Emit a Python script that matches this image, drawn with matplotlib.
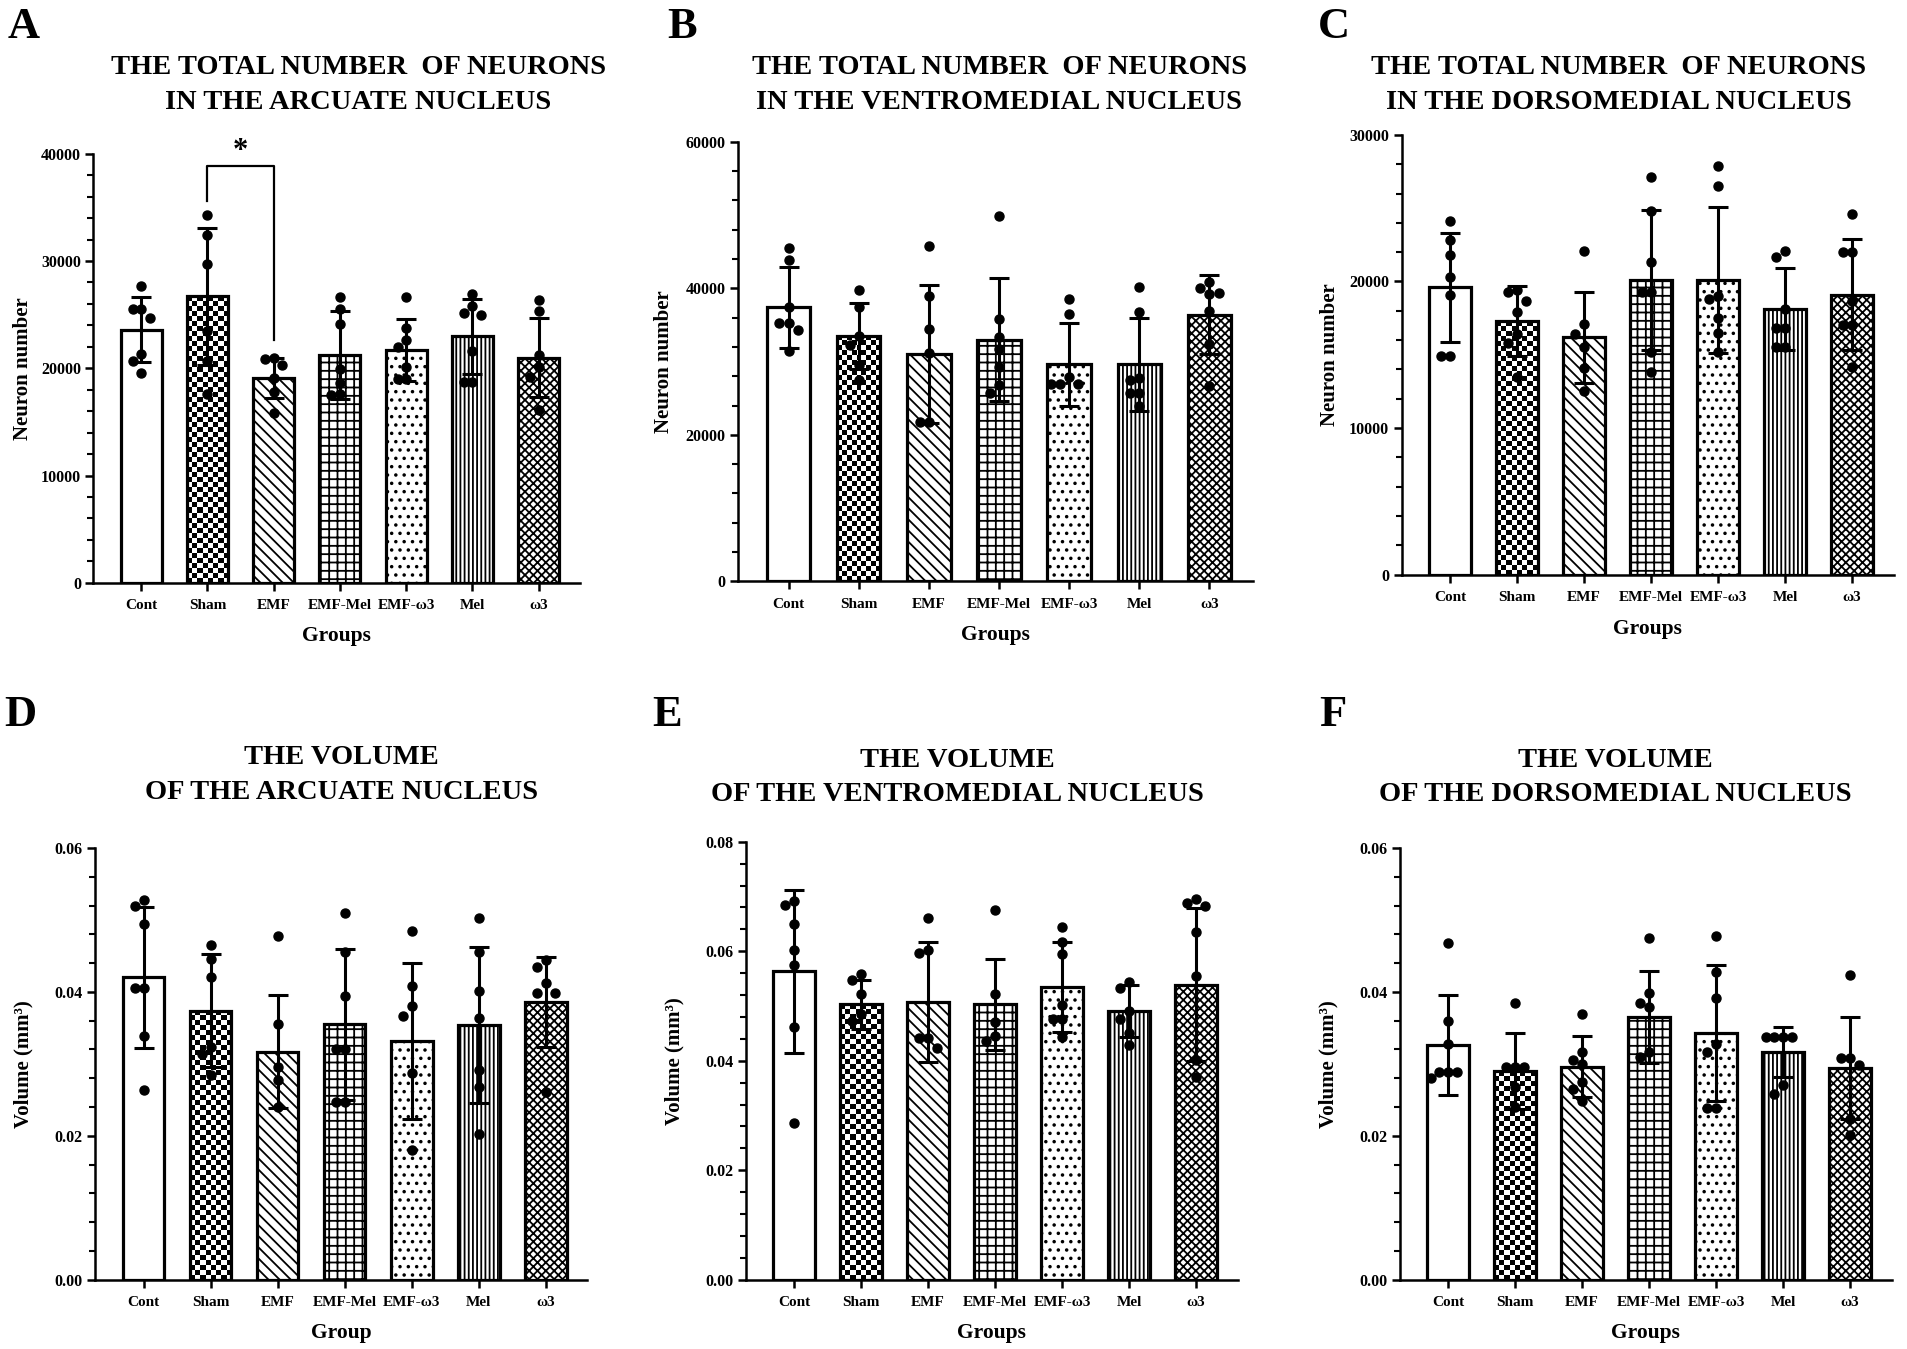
import numpy as np
import matplotlib
matplotlib.use('Agg')
import matplotlib.pyplot as plt
from matplotlib.ticker import MultipleLocator, FormatStrFormatter

plt.rcParams['font.family'] = ['Liberation Serif', 'DejaVu Serif']
plt.rcParams['font.weight'] = 'bold'
plt.rcParams['hatch.linewidth'] = 1.3

groups = ['Cont', 'Sham', 'EMF', 'EMF-Mel', 'EMF-ω3', 'Mel', 'ω3']

# A: neurons, arcuate nucleus
arc_n_mean = [23600, 26700, 19100, 21200, 21700, 23000, 21000]
arc_n_sd = [3000, 6400, 1900, 4100, 2900, 3500, 3700]
arc_n_pts = [[27700, 25500, 25500, 24700, 21300, 20700, 19600],
             [34300, 32400, 29700, 23500, 20700, 17600],
             [21000, 20900, 20300, 19100, 17800, 15800],
             [26600, 25500, 24100, 19900, 18600, 17600, 17500],
             [26600, 23800, 22600, 22000, 20100, 19000, 19000],
             [26900, 25800, 25200, 25000, 21600, 18700, 18700],
             [26400, 25300, 21200, 20100, 19200, 16100]]

# B: neurons, ventromedial nucleus
vmn_n_mean = [37400, 33500, 31000, 33000, 29600, 29600, 36400]
vmn_n_sd = [5500, 4500, 9400, 8400, 5600, 6400, 5400]
vmn_n_pts = [[45500, 43900, 37400, 35200, 35200, 34300, 31400],
             [39800, 37400, 33500, 32200, 29500, 27500],
             [45700, 39000, 34500, 31100, 21800, 21800],
             [49900, 35800, 33300, 31700, 29300, 26800, 25700],
             [38500, 36500, 27900, 27000, 27000, 27000],
             [40200, 36700, 27700, 27500, 25700, 25700, 23900],
             [40800, 40100, 39400, 39200, 36900, 32400, 26600]]

# C: neurons, dorsomedial nucleus
dmn_n_mean = [19600, 17300, 16200, 20100, 20100, 18100, 19100]
dmn_n_sd = [3700, 2400, 3100, 4800, 5000, 2800, 3800]
dmn_n_pts = [[24100, 22800, 21800, 20300, 19100, 14900, 14900],
             [19400, 19300, 18700, 17900, 16400, 15800, 13500],
             [22100, 17100, 16400, 15500, 14100, 12500],
             [27100, 24800, 21300, 19300, 19300, 15200, 13800],
             [27900, 26500, 19000, 18800, 17500, 16500, 15200],
             [22100, 21700, 18100, 16800, 16800, 15500, 15500],
             [24600, 22000, 22000, 18700, 17000, 17000, 14200]]

# D: volume, arcuate nucleus
arc_v_mean = [0.0420, 0.0374, 0.0317, 0.0355, 0.0332, 0.0354, 0.0386]
arc_v_sd = [0.0098, 0.0078, 0.0078, 0.0105, 0.0108, 0.0108, 0.0063]
arc_v_pts = [[0.0528, 0.0520, 0.0494, 0.0406, 0.0406, 0.0338, 0.0264],
             [0.0465, 0.0446, 0.0421, 0.0324, 0.0314, 0.0284],
             [0.0478, 0.0356, 0.0296, 0.0277, 0.0240],
             [0.0510, 0.0455, 0.0394, 0.0321, 0.0321, 0.0247, 0.0247],
             [0.0485, 0.0408, 0.0380, 0.0366, 0.0287, 0.0180],
             [0.0503, 0.0455, 0.0401, 0.0364, 0.0291, 0.0268, 0.0203],
             [0.0444, 0.0435, 0.0412, 0.0398, 0.0398, 0.0261]]

# E: volume, ventromedial nucleus
vmn_v_mean = [0.0563, 0.0503, 0.0507, 0.0503, 0.0535, 0.0491, 0.0539]
vmn_v_sd = [0.0149, 0.0045, 0.0110, 0.0083, 0.0082, 0.0047, 0.0140]
vmn_v_pts = [[0.0691, 0.0684, 0.0650, 0.0603, 0.0575, 0.0462, 0.0286],
             [0.0558, 0.0548, 0.0521, 0.0485, 0.0472],
             [0.0660, 0.0603, 0.0597, 0.0441, 0.0441, 0.0424],
             [0.0676, 0.0521, 0.0470, 0.0445, 0.0436],
             [0.0645, 0.0616, 0.0595, 0.0502, 0.0477, 0.0477, 0.0443],
             [0.0543, 0.0532, 0.0491, 0.0477, 0.0451, 0.0428],
             [0.0696, 0.0688, 0.0682, 0.0635, 0.0554, 0.0402, 0.0371]]

# F: volume, dorsomedial nucleus
dmn_v_mean = [0.0326, 0.0290, 0.0296, 0.0365, 0.0343, 0.0316, 0.0294]
dmn_v_sd = [0.0070, 0.0053, 0.0042, 0.0064, 0.0094, 0.0035, 0.0071]
dmn_v_pts = [[0.0468, 0.0359, 0.0328, 0.0289, 0.0289, 0.0289, 0.0280],
             [0.0385, 0.0296, 0.0296, 0.0296, 0.0268, 0.0240],
             [0.0369, 0.0317, 0.0305, 0.0300, 0.0275, 0.0265, 0.0249],
             [0.0475, 0.0399, 0.0385, 0.0379, 0.0317, 0.0310],
             [0.0477, 0.0427, 0.0392, 0.0328, 0.0317, 0.0238, 0.0238],
             [0.0337, 0.0337, 0.0337, 0.0337, 0.0270, 0.0258],
             [0.0424, 0.0308, 0.0308, 0.0298, 0.0224, 0.0201]]

# significance bracket in A (Sham vs EMF)
sig_pair = (1, 2)
sig_levels = [35600, 38900, 22600]

hatches = ['', 'checker', '\\\\\\', '++', '..', '||||', 'xxxx']

TOP_N = 'THE TOTAL NUMBER  OF NEURONS\nIN THE '
TOP_V = 'THE VOLUME\nOF THE '
panels = [
    # letter, title, data, ymax, major, minor, fmt, ylabel, xlabel, axes rect, title xy, letter xy
    ('A', TOP_N + 'ARCUATE NUCLEUS', arc_n_mean, arc_n_sd, arc_n_pts, 40000, 10000, 2000, '%d',
     'Neuron number', 'Groups', [0.049, 0.568, 0.255, 0.318], (0.188, 0.937), (0.004, 0.995)),
    ('B', TOP_N + 'VENTROMEDIAL NUCLEUS', vmn_n_mean, vmn_n_sd, vmn_n_pts, 60000, 20000, 4000, '%d',
     'Neuron number', 'Groups', [0.387, 0.569, 0.270, 0.326], (0.524, 0.937), (0.350, 0.995)),
    ('C', TOP_N + 'DORSOMEDIAL NUCLEUS', dmn_n_mean, dmn_n_sd, dmn_n_pts, 30000, 10000, 2000, '%d',
     'Neuron number', 'Groups', [0.735, 0.574, 0.258, 0.326], (0.849, 0.937), (0.691, 0.995)),
    ('D', TOP_V + 'ARCUATE NUCLEUS', arc_v_mean, arc_v_sd, arc_v_pts, 0.06, 0.02, 0.004, '%.2f',
     'Volume (mm³)', 'Group', [0.050, 0.0514, 0.258, 0.320], (0.179, 0.4256), (0.002, 0.485)),
    ('E', TOP_V + 'VENTROMEDIAL NUCLEUS', vmn_v_mean, vmn_v_sd, vmn_v_pts, 0.08, 0.02, 0.004, '%.2f',
     'Volume (mm³)', 'Groups', [0.391, 0.0514, 0.258, 0.3246], (0.502, 0.4238), (0.342, 0.485)),
    ('F', TOP_V + 'DORSOMEDIAL NUCLEUS', dmn_v_mean, dmn_v_sd, dmn_v_pts, 0.06, 0.02, 0.004, '%.2f',
     'Volume (mm³)', 'Groups', [0.734, 0.0514, 0.258, 0.320], (0.847, 0.4238), (0.692, 0.485)),
]


def spread(vals, thr, step=0.13):
    # simple swarm: push close values sideways
    vals = np.asarray(vals)
    offs = np.zeros(len(vals))
    placed = []
    for i in np.argsort(vals)[::-1]:
        used = {int(round(offs[j] / step)) for j in placed if abs(vals[j] - vals[i]) < thr}
        for c in [0, -1, 1, -2, 2, -3, 3]:
            if c not in used:
                offs[i] = c * step
                break
        placed.append(i)
    return offs


def checker_fill(ax, bar, cell=5):
    x0, y0, w, h = bar.get_x(), bar.get_y(), bar.get_width(), bar.get_height()
    p0 = ax.transData.transform((x0, y0))
    p1 = ax.transData.transform((x0 + w, y0 + h))
    nx = max(1, int(round((p1[0] - p0[0]) / cell)))
    ny = max(1, int(round((p1[1] - p0[1]) / cell)))
    board = np.indices((ny, nx)).sum(axis=0) % 2
    im = ax.imshow(board, cmap='gray', extent=(x0, x0 + w, y0, y0 + h), origin='lower',
                   interpolation='nearest', aspect='auto', zorder=1.5)
    im.set_clip_path(bar)


fig = plt.figure(figsize=(19.07, 13.49), dpi=100)
x = np.arange(len(groups))

for (letter, title, mean, sd, pts, ymax, major, minor, fmt, ylab, xlab,
     rect, txy, lxy) in panels:
    ax = fig.add_axes(rect)
    ax.set_xlim(-0.72, 6.62)
    ax.set_ylim(0, ymax)

    for i in range(len(groups)):
        h = hatches[i]
        if h == 'checker':
            b = ax.bar(x[i], mean[i], width=0.62, facecolor='none', edgecolor='black',
                       linewidth=2.3, zorder=2)[0]
            checker_fill(ax, b)
        else:
            ax.bar(x[i], mean[i], width=0.62, facecolor='white', edgecolor='black',
                   hatch=h if h else None, linewidth=2.3, zorder=2)
    ax.set_xlim(-0.72, 6.62)
    ax.set_ylim(0, ymax)

    ax.errorbar(x, mean, yerr=sd, fmt='none', ecolor='black', elinewidth=2.2,
                capsize=7, capthick=2.2, zorder=4)
    for i, p in enumerate(pts):
        off = spread(p, ymax * 0.025)
        ax.plot(x[i] + off, p, 'o', color='black', ms=6.5, zorder=5, clip_on=False)

    ax.spines['top'].set_visible(False)
    ax.spines['right'].set_visible(False)
    ax.spines['left'].set_linewidth(1.8)
    ax.spines['bottom'].set_linewidth(1.8)
    ax.yaxis.set_major_locator(MultipleLocator(major))
    ax.yaxis.set_minor_locator(MultipleLocator(minor))
    ax.yaxis.set_major_formatter(FormatStrFormatter(fmt))
    ax.set_xticks(x)
    ax.set_xticklabels(groups)
    ax.tick_params(axis='both', which='major', length=6, width=1.8, labelsize=11.5, pad=3)
    ax.tick_params(axis='x', which='major', labelsize=11, pad=6)
    ax.tick_params(axis='y', which='minor', length=4, width=1.5)

    ax.set_ylabel(ylab, fontsize=15, fontweight='bold')
    ax.yaxis.set_label_coords(-0.125, 0.5)
    ax.set_xlabel(xlab, fontsize=15.5, fontweight='bold')
    ax.xaxis.set_label_coords(0.5, -0.10)

    fig.text(txy[0], txy[1], title, ha='center', va='center', fontsize=20.5,
             fontweight='bold', linespacing=1.5)
    fig.text(lxy[0], lxy[1], letter, ha='left', va='top', fontsize=32, fontweight='bold')

    if letter == 'A':
        a, b = sig_pair
        lo, hi, lo2 = sig_levels
        ax.plot([x[a], x[a], x[b], x[b]], [lo, hi, hi, lo2], color='black', lw=1.6, zorder=6)
        ax.text((x[a] + x[b]) / 2, hi, '*', ha='center', va='bottom', fontsize=22,
                fontweight='bold')

fig.savefig('out.png', dpi=100)
